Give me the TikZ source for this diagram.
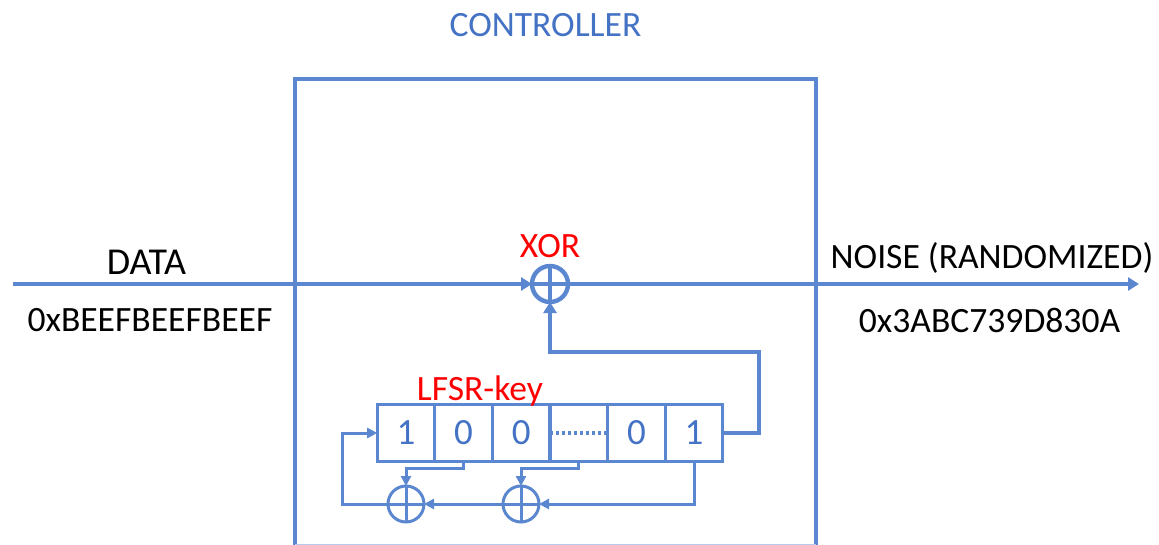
\documentclass[tikz,border=0pt]{standalone}
\usepackage{fontspec}
\setmainfont{Carlito}
\usetikzlibrary{arrows.meta,calc}
\definecolor{lineblue}{HTML}{5B87D0}
\definecolor{textblue}{HTML}{4472C4}
\tikzset{
  wire/.style={draw=lineblue,line width=3pt},
  heavy/.style={draw=lineblue,line width=4.6pt},
  smalltip/.style={-{Triangle[length=10pt,width=10pt]}},
  bigtip/.style={-{Triangle[length=11pt,width=13pt]}},
  cell/.style={draw=lineblue,line width=3.2pt,minimum width=57.6pt,minimum height=57pt,inner sep=0pt,outer sep=0pt,text=textblue,font=\fontsize{37}{40}\selectfont},
  xorbig/.style={circle,draw=lineblue,line width=4.4pt,minimum size=36pt,inner sep=0pt,outer sep=0pt},
  xorsmall/.style={circle,draw=lineblue,line width=3pt,minimum size=36pt,inner sep=0pt,outer sep=0pt},
  blacklabel/.style={text=black,font=\fontsize{35.6}{40}\selectfont,inner sep=0pt},
  redlabel/.style={text=red,font=\fontsize{35.6}{40}\selectfont,inner sep=0pt},
}
\begin{document}
\begin{tikzpicture}[x=1pt,y=-1pt]
\useasboundingbox (0,0) rectangle (1159,545);
\clip (0,0) rectangle (1159,545);
\node[text=textblue,font=\fontsize{35.6}{40}\selectfont,inner sep=0pt] (title) at (545.5,25) {CONTROLLER};
\node[draw=lineblue,line width=4.4pt,minimum width=521pt,minimum height=468pt,inner sep=0pt,outer sep=0pt,anchor=north west] (ctrl) at (295,79) {};
\draw[draw=lineblue!45,line width=1.2pt] (ctrl.west |- 0,544.4) -- (ctrl.east |- 0,544.4);
\coordinate (in) at (13,284);
\coordinate (out) at (1139,284);
\node[xorbig] (xor) at (550,284) {};
\draw[wire,line width=3.6pt,bigtip] (in) -- (xor.west);
\draw[wire,line width=3.6pt,bigtip] (xor.east) -- (out);
\draw[wire,line width=3.6pt] (xor.north) -- (xor.south);
\draw[wire,line width=3.6pt] (xor.west) -- (xor.east);
\node[cell] (c1) at (406,433) {\raisebox{-3pt}{1}};
\node[cell] (c2) at (463.6,433) {\raisebox{-3pt}{0}};
\node[cell] (c3) at (521.2,433) {\raisebox{-3pt}{0}};
\node[cell] (c4) at (578.8,433) {};
\node[cell] (c5) at (636.4,433) {\raisebox{-3pt}{0}};
\node[cell] (c6) at (694,433) {\raisebox{-3pt}{1}};
\draw[draw=lineblue,line width=3.2pt,dash pattern=on 3pt off 3pt,line cap=butt] (c4.west) -- (c4.east);
\node[xorsmall] (x1) at (406,504) {};
\node[xorsmall] (x2) at (521,504) {};
\draw[wire] (x1.north) -- (x1.south);
\draw[wire] (x2.north) -- (x2.south);
\draw[wire] (x1.west) -- (x1.east);
\draw[wire] (x2.west) -- (x2.east);
\draw[heavy,bigtip] (c6.east) -| (759,352) -| (xor.south);
\draw[wire,smalltip] (x1.west) -- (342,504) |- (c1.west);
\draw[wire,smalltip] (c2.south) |- (406,468) -- (x1.north);
\draw[wire,smalltip] (c4.south) |- (521,468) -- (x2.north);
\draw[wire,smalltip] (c6.south) |- (x2.east);
\draw[wire,smalltip] (x2.west) -- (x1.east);
\node[blacklabel,font=\fontsize{38}{40}\selectfont] (data) at (146.5,262) {DATA};
\node[blacklabel] (datav) at (150,320) {0xBEEFBEEFBEEF};
\node[blacklabel] (noise) at (992,258) {NOISE (RANDOMIZED)};
\node[blacklabel] (noisev) at (989.5,320) {0x3ABC739D830A};
\node[redlabel] (xl) at (550,246) {XOR};
\node[redlabel] (kl) at (480,391) {LFSR-key};
\end{tikzpicture}
\end{document}
